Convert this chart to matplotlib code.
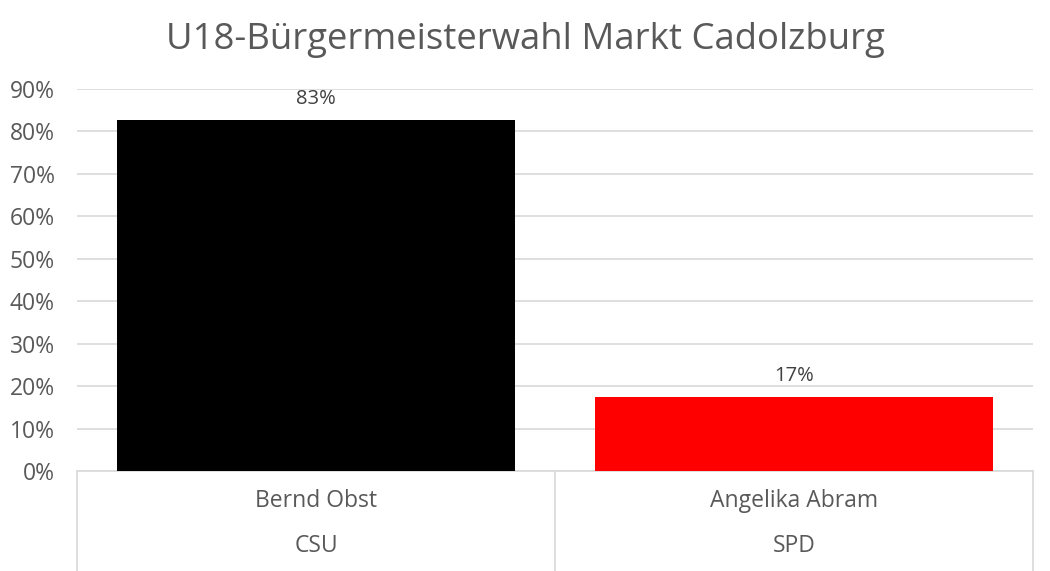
import matplotlib
matplotlib.use("Agg")
import matplotlib.pyplot as plt
from matplotlib.ticker import PercentFormatter

names = ["Bernd Obst", "Angelika Abram"]
parties = ["CSU", "SPD"]
shares = [82.6, 17.4]
labels = ["83%", "17%"]
bar_colors = ["#000000", "#ff0000"]
yticks = [0, 10, 20, 30, 40, 50, 60, 70, 80, 90]

plt.rcParams["font.family"] = ["Open Sans", "DejaVu Sans"]
GRAY = "#595959"
GRID = "#d9d9d9"

fig = plt.figure(figsize=(10.5, 5.71), dpi=100)
ax = fig.add_axes([0.0733, 0.1751, 0.9105, 0.669])

x = range(len(names))
ax.bar(x, shares, width=0.833, color=bar_colors, zorder=3)
for xi, v, t in zip(x, shares, labels):
    ax.text(xi, v + 2.6, t, ha="center", va="bottom", fontsize=14.5, color="#404040")

ax.set_xlim(-0.5, len(names) - 0.5)
ax.set_ylim(0, 90)
ax.set_yticks(yticks)
ax.yaxis.set_major_formatter(PercentFormatter(decimals=0))
ax.grid(axis="y", color=GRID, linewidth=1.2, zorder=0)
ax.tick_params(axis="y", length=0, labelsize=16.5, labelcolor=GRAY, pad=16)
ax.set_xticks([])
for s in ["top", "right", "left"]:
    ax.spines[s].set_visible(False)
ax.spines["bottom"].set_color(GRID)
ax.spines["bottom"].set_linewidth(1.2)

# two-level category axis below the plot
trans = ax.get_xaxis_transform()
for b in [-0.5, 0.5, 1.5]:
    ax.plot([b, b], [0, -0.262], transform=trans, color=GRID, lw=1.2, clip_on=False)
for xi, n, p in zip(x, names, parties):
    ax.text(xi, -0.078, n, transform=trans, ha="center", va="center", fontsize=16.5, color=GRAY)
    ax.text(xi, -0.196, p, transform=trans, ha="center", va="center", fontsize=16.5, color=GRAY)

fig.text(0.5, 0.93, "U18-Bürgermeisterwahl Markt Cadolzburg", ha="center", va="center",
         fontsize=26.3, color=GRAY)

fig.savefig("out.png", dpi=100)
